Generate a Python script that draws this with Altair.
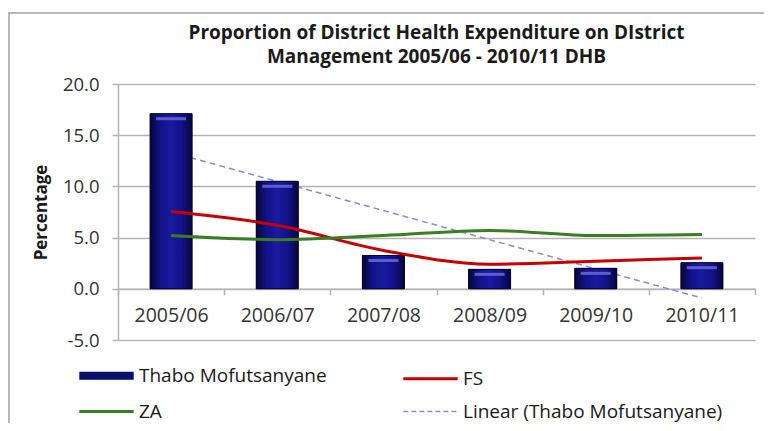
import json
import altair as alt
import pandas as pd

categories = ["2005/06", "2006/07", "2007/08", "2008/09", "2009/10", "2010/11"]
thabo = [17.1, 10.5, 3.25, 1.9, 2.0, 2.55]
fs = [7.55, 6.2, 3.75, 2.4, 2.7, 3.0]
za = [5.2, 4.8, 5.2, 5.7, 5.2, 5.3]
# legend order (filled column by column): Thabo, ZA | FS, Linear
series_names = ["Thabo Mofutsanyane", "ZA", "FS", "Linear (Thabo Mofutsanyane)"]
series_colors = ["#0d0d6b", "#3a7d22", "#c80000", "#8c8cd0"]
y_ticks = [-5, 0, 5, 10, 15, 20]
title_lines = ["Proportion of District Health Expenditure on DIstrict",
               "Management 2005/06 - 2010/11 DHB"]

FONT = "Open Sans"
GRID = "#b4b4b4"

bars_df = pd.DataFrame({"period": categories, "idx": list(range(1, len(categories) + 1)),
                        "value": thabo, "series": series_names[0]})
lines_df = pd.DataFrame({
    "period": categories * 2,
    "value": fs + za,
    "series": ["FS"] * len(fs) + ["ZA"] * len(za),
})

color_scale = alt.Scale(domain=series_names, range=series_colors)
lin = series_names[3]
legend = alt.Legend(
    orient="none", legendX=-21, legendY=282, columns=2, columnPadding=70, rowPadding=10,
    title=None, symbolType="M-1.7,0H1.7", symbolSize=1024,
    symbolStrokeWidth={"expr": f"datum.value === '{series_names[0]}' ? 8 : (datum.value === '{lin}' ? 1.5 : 3)"},
    symbolDash={"expr": f"datum.value === '{lin}' ? [5, 3] : [1, 0]"},
    symbolStrokeColor={"expr": "scale('color', datum.value)"},
    symbolFillColor="transparent", symbolOpacity=1,
    labelFont=FONT, labelFontSize=19, labelOffset=23, labelColor="#1a1a1a", labelLimit=500,
)

x_enc = alt.X("period:N", sort=categories,
              scale=alt.Scale(domain=categories, paddingInner=0, paddingOuter=0),
              axis=alt.Axis(title=None, labelAngle=0, tickBand="extent", offset=-51.2,
                            domainColor=GRID, tickColor=GRID, tickSize=6, tickWidth=1.5,
                            domainWidth=1.5, labelFont=FONT, labelFontSize=19.5,
                            labelColor="#333333", labelPadding=12, grid=False))
y_enc = alt.Y("value:Q", scale=alt.Scale(domain=[-5, 20], nice=False),
              axis=alt.Axis(values=y_ticks, title="Percentage",
                            labelExpr="replace(format(datum.value, '.1f'), '\u2212', '-')",
                            titleFont=FONT, titleFontSize=17, titleFontWeight="bold",
                            titleColor="#1a1a1a", titlePadding=12,
                            labelFont=FONT, labelFontSize=18.5, labelColor="#333333",
                            labelPadding=13, tickSize=6, tickColor=GRID, tickWidth=1.5,
                            domainColor=GRID, domainWidth=1.5,
                            gridColor=GRID, gridWidth=1.5))

bars_legend = alt.Chart(bars_df).mark_bar(size=42).encode(
    x=x_enc, y=y_enc, color=alt.Color("series:N", scale=color_scale, legend=legend))

gradient = {"gradient": "linear", "x1": 0, "x2": 1, "y1": 0, "y2": 0,
            "stops": [{"offset": 0, "color": "#06063e"},
                      {"offset": 0.25, "color": "#12128a"},
                      {"offset": 0.5, "color": "#1a1aa0"},
                      {"offset": 0.75, "color": "#12128a"},
                      {"offset": 1, "color": "#06063e"}]}
bars = alt.Chart(bars_df).mark_bar(size=42, fill=gradient, stroke="#00001e", strokeWidth=1).encode(
    x=alt.X("period:N", sort=categories), y="value:Q")

highlight = alt.Chart(bars_df).mark_tick(size=30, thickness=3, color="#6a6ad6", opacity=0.85,
                                         yOffset=5).encode(
    x=alt.X("period:N", sort=categories), y="value:Q")

lines = alt.Chart(lines_df).mark_line(strokeWidth=3, interpolate="monotone").encode(
    x=alt.X("period:N", sort=categories), y="value:Q",
    color=alt.Color("series:N", scale=color_scale, legend=legend))

trend = alt.Chart(bars_df).transform_regression("idx", "value").transform_calculate(
    period=f"{json.dumps(categories)}[datum.idx - 1]",
    series=f"'{lin}'",
).mark_line(strokeDash=[6, 4], strokeWidth=1.5).encode(
    x=alt.X("period:N", sort=categories), y="value:Q",
    color=alt.Color("series:N", scale=color_scale, legend=legend))

one = pd.DataFrame({"a": [0]})
border_top = alt.Chart(one).mark_rule(color="#a0a0a0", strokeWidth=1.5).encode(
    x=alt.value(-110), x2=alt.value(660), y=alt.value(-71))
border_left = alt.Chart(one).mark_rule(color="#a0a0a0", strokeWidth=1.5).encode(
    x=alt.value(-109), y=alt.value(-71), y2=alt.value(360))

title_layers = [
    alt.Chart(one).mark_text(text=line, font=FONT, fontSize=19, fontWeight="bold",
                             color="#1a1a1a", align="center", baseline="alphabetic").encode(
        x=alt.value(318.5), y=alt.value(yv))
    for line, yv in zip(title_lines, [-45, -21])
]

chart = alt.layer(bars_legend, trend, bars, highlight, lines, border_top, border_left,
                  *title_layers).properties(
    width=637, height=256,
    padding={"left": 110, "top": 76, "right": 9, "bottom": 83},
    autosize=alt.AutoSizeParams(type="none"),
    background="white",
).configure_view(stroke=None)

chart.save("out.html", embed_options={"renderer": "svg", "actions": False})
